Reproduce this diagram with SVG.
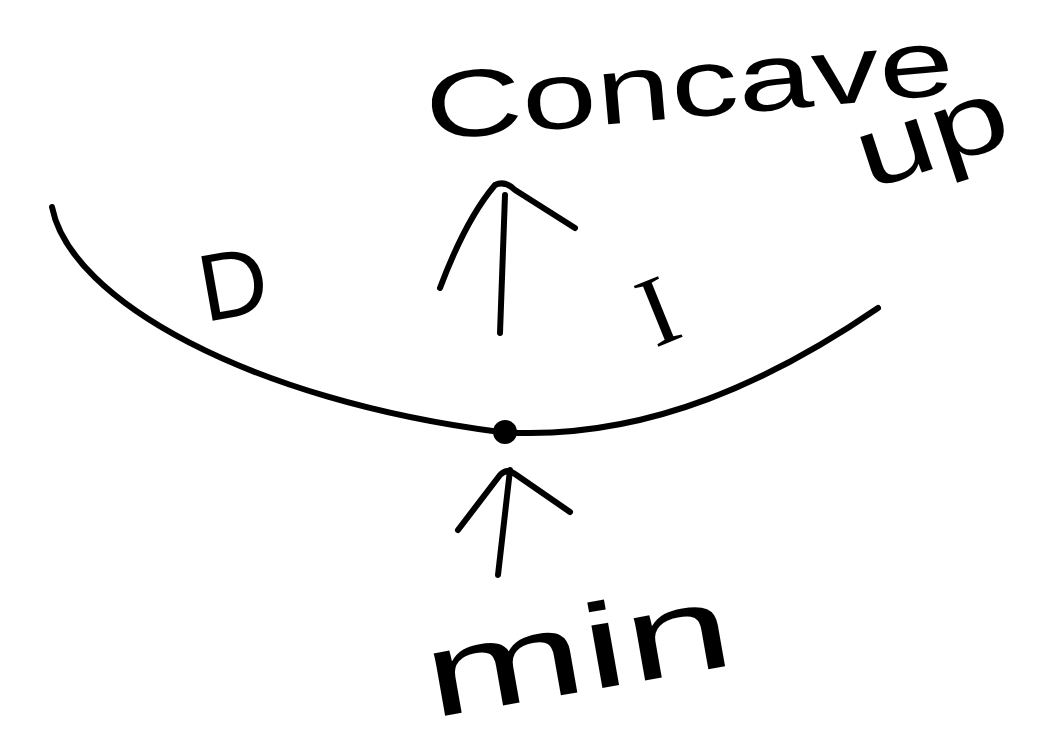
<svg xmlns="http://www.w3.org/2000/svg" width="1038" height="741" viewBox="0 0 1038 741">
<style>
.ink{fill:none;stroke:#000;stroke-width:6;stroke-linecap:round;stroke-linejoin:round}
.t{fill:#000;font-family:"Liberation Sans",sans-serif}
</style>
<rect width="1038" height="741" fill="#fff"/>
<g id="curve">
<path class="ink" d="M52,207 C70,300 250,400 500,432 C650,442 780,375 878,308"/>
<circle cx="505" cy="432" r="12" fill="#000"/>
</g>
<g id="connectors">
<path class="ink" d="M500,333 L505,195"/>
<path class="ink" d="M440,288 C458,240 478,205 495,185 Q505,180 515,190 L575,228"/>
<path class="ink" d="M498,575 L510,470"/>
<path class="ink" d="M458,530 L500,475 Q507,468 515,474 L570,512"/>
</g>
<g id="label-concave">
<text class="t" x="428" y="140" font-size="95" textLength="530" lengthAdjust="spacingAndGlyphs" transform="rotate(-5 428 140)">Concave</text>
</g>
<g id="label-up">
<text class="t" x="868" y="190" font-size="100" textLength="155" lengthAdjust="spacingAndGlyphs" transform="rotate(-18 868 190)">up</text>
</g>
<g id="label-d">
<text class="t" x="205" y="322" font-size="95" transform="rotate(-10 205 322)">D</text>
</g>
<g id="label-i">
<text class="t" x="655" y="348" font-size="100" style="font-family:'Liberation Serif',serif" transform="rotate(-22 655 348)">I</text>
</g>
<g id="label-min">
<text class="t" x="432" y="718" font-size="120" textLength="310" lengthAdjust="spacingAndGlyphs" transform="rotate(-10 432 718)">min</text>
</g>
</svg>
